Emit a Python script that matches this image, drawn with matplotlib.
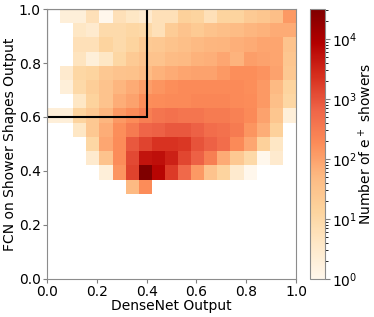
import numpy as np
import matplotlib
matplotlib.use("Agg")
import matplotlib.pyplot as plt
from matplotlib.colors import LogNorm
from matplotlib.patches import Rectangle

# bin edges of the 2D histogram (19 x 19 bins over [0, 1])
x_edges = np.linspace(0, 1, 20)
y_edges = np.linspace(0, 1, 20)

# counts per bin, one row per y bin, listed from the top (y ~ 1.0) downwards
# columns run along x from 0 to 1; rows below the last one are empty
counts_top_down = [
    [0, 2, 2, 6, 1, 6, 4, 3, 6, 6, 16, 13, 6, 13, 13, 22, 28, 40, 126],
    [0, 0, 4, 3, 9, 9, 11, 10, 6, 20, 32, 23, 33, 40, 46, 56, 63, 76, 76],
    [0, 0, 6, 6, 13, 9, 13, 22, 25, 33, 40, 50, 55, 58, 69, 79, 91, 91, 32],
    [0, 0, 5, 2, 4, 11, 22, 32, 32, 46, 50, 63, 69, 89, 60, 112, 100, 93, 27],
    [0, 3, 11, 13, 25, 32, 35, 45, 63, 76, 91, 100, 100, 126, 174, 174, 151, 100, 25],
    [0, 2, 10, 18, 32, 56, 79, 112, 141, 174, 200, 200, 200, 200, 200, 174, 126, 49, 13],
    [0, 0, 4, 14, 32, 71, 100, 174, 178, 200, 200, 224, 224, 224, 200, 178, 126, 40, 11],
    [2, 2, 13, 25, 56, 126, 178, 282, 398, 447, 398, 398, 316, 316, 263, 200, 100, 28, 2],
    [0, 0, 4, 25, 71, 174, 316, 631, 708, 891, 891, 708, 501, 447, 316, 141, 71, 16, 0],
    [0, 0, 0, 11, 89, 178, 891, 1413, 2239, 2239, 1995, 1000, 708, 501, 200, 89, 16, 4, 0],
    [0, 0, 0, 3, 32, 178, 1259, 5000, 5600, 3500, 1400, 708, 282, 79, 25, 10, 1, 3, 0],
    [0, 0, 0, 0, 2, 141, 1500, 31600, 7500, 1800, 560, 126, 32, 13, 3, 1, 0, 0, 0],
    [0, 0, 0, 0, 0, 0, 50, 178, 0, 0, 0, 0, 0, 0, 0, 0, 0, 0, 0],
]

counts = np.zeros((19, 19))
counts[19 - len(counts_top_down):] = np.array(counts_top_down[::-1])
counts = np.ma.masked_equal(counts, 0)

fig = plt.figure(figsize=(3.74, 3.17), dpi=100)
ax = fig.add_axes([0.1257, 0.1199, 0.6657, 0.8517])
cax = fig.add_axes([0.829, 0.1199, 0.040, 0.8517])

mesh = ax.pcolormesh(x_edges, y_edges, counts, cmap="OrRd", norm=LogNorm(vmin=1))
ax.add_patch(Rectangle((0, 0.6), 0.4, 0.4, fill=False, edgecolor="black", linewidth=1.5))

ax.set_xlim(0, 1)
ax.set_ylim(0, 1)
ax.set_xticks([0, 0.2, 0.4, 0.6, 0.8, 1.0])
ax.set_yticks([0, 0.2, 0.4, 0.6, 0.8, 1.0])
ax.set_xlabel("DenseNet Output", fontsize=10, labelpad=0)
ax.set_ylabel("FCN on Shower Shapes Output", fontsize=10, labelpad=1)
ax.tick_params(labelsize=10, color="0.5", length=3, pad=1.5)
for s in ax.spines.values():
    s.set_color("0.55")

cb = fig.colorbar(mesh, cax=cax)
cb.set_label("Number of e$^+$ showers", fontsize=10, labelpad=0)
cb.ax.tick_params(labelsize=10, color="0.5", pad=1.5)
cb.outline.set_edgecolor("0.55")

fig.savefig("out.png", dpi=100)
